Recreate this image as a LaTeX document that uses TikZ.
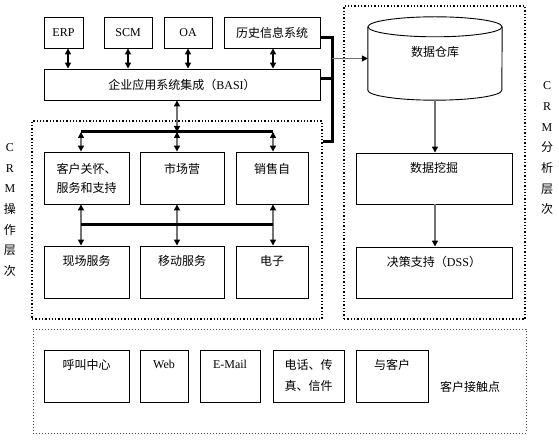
\documentclass[tikz,border=0pt]{standalone}
\usepackage{fontspec}
\setmainfont{Liberation Serif}
\newfontfamily\cjk{Noto Sans CJK SC}
\usetikzlibrary{arrows.meta}
\begin{document}
\begin{tikzpicture}[x=1pt,y=-1pt,
  every node/.style={font=\fontsize{12pt}{19pt}\selectfont, inner sep=0pt},
  box/.style={draw, line width=0.9pt},
  intext/.style={anchor=north, yshift=-#1pt, align=center},
  frame/.style={draw, dotted, line width=1.3pt},
  lightframe/.style={draw=black!70, dotted, line width=1pt},
  topdbl/.style={{Triangle[width=6pt,length=6pt]}-{Triangle[width=6pt,length=6pt]}, line width=1.6pt},
  dbl/.style={{Triangle[width=6pt,length=6pt,color=black]}-{Triangle[width=6pt,length=6pt,color=black]}, draw=black!55, line width=1.3pt},
  one/.style={-{Triangle[width=6pt,length=6pt,color=black]}, draw=black!55, line width=1.3pt},
  bus/.style={line width=3pt},
  vlab/.style={align=center, font=\fontsize{12pt}{20.67pt}\selectfont}
]
\useasboundingbox (0,0) rectangle (559,446);

% dotted frames
\node[frame, minimum width=290pt, minimum height=198pt] (op) at (177,220) {};
\node[frame, minimum width=181pt, minimum height=313pt] (an) at (434.5,162.5) {};
\node[lightframe, minimum width=493pt, minimum height=104pt] (bt) at (279.5,381) {};

% top row
\node[box, minimum width=39pt, minimum height=31pt] (erp) at (63.5,32.5) {ERP};
\node[box, minimum width=48pt, minimum height=31pt] (scm) at (128,32.5) {SCM};
\node[box, minimum width=48pt, minimum height=31pt] (oa) at (188,32.5) {OA};
\node[box, minimum width=96pt, minimum height=31pt] (hist) at (272,32.5) {\cjk 历史信息系统};
\node[box, minimum width=276pt, minimum height=31pt] (basi) at (182,84.5) {\cjk 企业应用系统集成（{\rmfamily BASI}）};

\draw[topdbl] ([xshift=4.5pt]erp.south) -- ([xshift=4.5pt]erp.south |- basi.north);
\draw[topdbl] (scm.south) -- (scm.south |- basi.north);
\draw[topdbl] (oa.south) -- (oa.south |- basi.north);
\draw[topdbl] ([xshift=1pt]hist.south) -- ([xshift=1pt]hist.south |- basi.north);

% operation layer
\node[box, minimum width=85pt, minimum height=52pt, label={[intext=12]north:{\cjk 客户关怀、\\\cjk 服务和支持}}] (kh) at (86.5,178) {};
\node[box, minimum width=84pt, minimum height=52pt, label={[intext=12]north:{\cjk 市场营}}] (sc) at (182,178) {};
\node[box, minimum width=72pt, minimum height=52pt, label={[intext=12]north:{\cjk 销售自}}] (xs) at (272,178) {};
\node[box, minimum width=85pt, minimum height=52pt, label={[intext=10]north:{\cjk 现场服务}}] (xc) at (86.5,272) {};
\node[box, minimum width=84pt, minimum height=52pt, label={[intext=10]north:{\cjk 移动服务}}] (yd) at (182,272) {};
\node[box, minimum width=72pt, minimum height=52pt, label={[intext=10]north:{\cjk 电子}}] (dz) at (272,272) {};

\coordinate (a1) at (81,132);
\coordinate (a2) at (177,132);
\coordinate (a3) at (273,132);
\coordinate (b1) at (81,225);
\coordinate (b3) at (273,225);

\draw[dbl] (a2 |- basi.south) -- (a2);
\draw[dbl] (a1) -- (a1 |- kh.north);
\draw[dbl] (a2) -- (a2 |- sc.north);
\draw[dbl] (a3) -- (a3 |- xs.north);
\draw[dbl] (a1 |- kh.south) -- (a1 |- xc.north);
\draw[dbl] (a2 |- sc.south) -- (a2 |- yd.north);
\draw[dbl] (a3 |- xs.south) -- (a3 |- dz.north);
\draw[bus] (a1) -- (a3);
\draw[bus] (b1) -- (b3);

\node[vlab] (oplab) at (10,210) {C\\R\\M\\\cjk 操\\\cjk 作\\\cjk 层\\\cjk 次};

% analysis layer: data warehouse cylinder
\node[minimum width=134pt, minimum height=83pt] (dw) at (435,58.5) {};
\draw[line width=0.9pt]
  ([yshift=-10pt]dw.north west) -- ([yshift=10pt]dw.south west)
  arc[start angle=180, end angle=360, x radius=67pt, y radius=10pt]
  -- ([yshift=-10pt]dw.north east);
\draw[line width=0.9pt] ([yshift=-10pt]dw.north) ellipse[x radius=67pt, y radius=10pt];
\node[anchor=north] (dwt) at ([yshift=-29pt]dw.north) {\cjk 数据仓库};

\node[box, minimum width=156pt, minimum height=51pt, label={[intext=10]north:{\cjk 数据挖掘}}] (sj) at (434,178.5) {};
\node[box, minimum width=156pt, minimum height=51pt, label={[intext=9]north:{\cjk 决策支持（{\rmfamily DSS}）}}] (dss) at (434,272.5) {};
\draw[one] (dw.south) -- (dw.south |- sj.north);
\draw[one] (sj.south -| dw.south) -- (dw.south |- dss.north);

\node[vlab] (anlab) at (547,148.5) {C\\R\\M\\\cjk 分\\\cjk 析\\\cjk 层\\\cjk 次};

% connections to warehouse
\coordinate (jn) at (332,142);
\draw[line width=3pt, line join=miter] ([yshift=-5.5pt]hist.east) -| (jn) -- (jn -| op.east);
\draw[line width=3pt] ([yshift=5.5pt]basi.east) -- ([yshift=5.5pt]basi.east -| jn);
\draw[one] (jn |- dw.west) -- (dw.west);

% contact points
\node[box, minimum width=85pt, minimum height=52pt, label={[intext=10]north:{\cjk 呼叫中心}}] (hj) at (86.5,376) {};
\node[box, minimum width=48pt, minimum height=52pt, label={[intext=10]north:{Web}}] (web) at (164,376) {};
\node[box, minimum width=60pt, minimum height=52pt, label={[intext=10]north:{E-Mail}}] (em) at (230,376) {};
\node[box, minimum width=71pt, minimum height=52pt, label={[intext=10, font=\fontsize{12pt}{21pt}\selectfont]north:{\cjk 电话、传\\\cjk 真、信件}}] (dh) at (308.5,376) {};
\node[box, minimum width=72pt, minimum height=52pt, label={[intext=10]north:{\cjk 与客户}}] (yk) at (392,376) {};
\node (jcd) at (470,387) {\cjk 客户接触点};
\end{tikzpicture}
\end{document}
